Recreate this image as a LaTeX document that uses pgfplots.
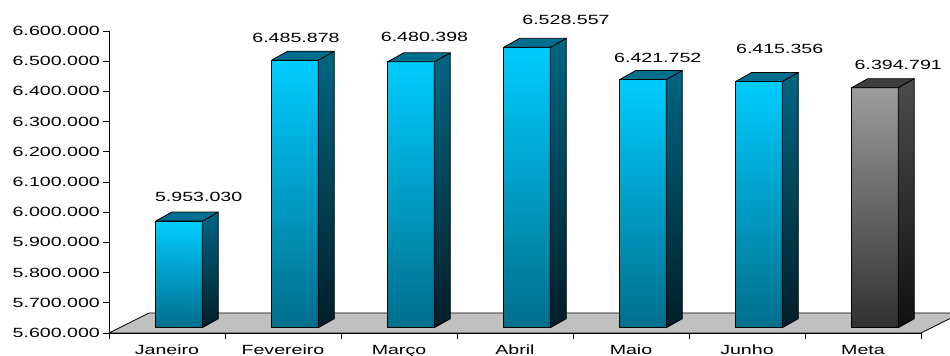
\documentclass[border=0pt]{standalone}
\usepackage{pgfplots}
\pgfplotsset{compat=1.18}
\usepackage{pgfplotstable}
\usepackage{fontspec}
\setmainfont{Liberation Sans}[FakeStretch=1.47]
\newcommand\lblfont{\fontsize{10}{12}\selectfont}

\definecolor{cyftop}{HTML}{00CCFF}
\definecolor{cyfbot}{HTML}{006E8C}
\definecolor{cystop}{HTML}{006682}
\definecolor{cysbot}{HTML}{001E28}
\definecolor{cytop}{HTML}{006E8E}
\definecolor{grftop}{HTML}{9C9C9C}
\definecolor{grfbot}{HTML}{303030}
\definecolor{grstop}{HTML}{4C4C4C}
\definecolor{grsbot}{HTML}{101010}
\definecolor{grtop}{HTML}{3E3E3E}
\definecolor{floorgray}{HTML}{C0C0C0}

% x: category index, v: value, dx/dy: label offset (px) from the value point, c: 0 blue, 1 grey
\pgfplotstableread{
x v lbl dx dy c
0 5953030 5.953.030 31.7 29.7 0
1 6485878 6.485.878 13.0 27.2 0
2 6480398 6.480.398 25.5 30.1 0
3 6528557 6.528.557 51.0 32.3 0
4 6421752 6.421.752 26.8 27.0 0
5 6415356 6.415.356 32.7 38.0 0
6 6394791 6.394.791 35.3 28.0 1
}\data

\pgfplotstableread{
x y
-0.5 5600000
6.5 5600000
6.845 5666225
-0.155 5666225
-0.5 5600000
}\floor

\begin{document}
\begin{tikzpicture}
\path[use as bounding box] (-81.75pt,-17.25pt) rectangle (630.75pt,249.75pt);
\begin{axis}[
  at={(0,0)}, anchor=south west,
  scale only axis, width=609pt, height=226.5pt,
  xmin=-0.5, xmax=6.5, ymin=5600000, ymax=6600000,
  enlargelimits=false, clip=false,
  axis x line*=bottom, axis y line*=left,
  axis line style={line width=0.6pt},
  tick align=outside, major tick length=4.5pt, minor tick length=4.5pt,
  tick style={line width=0.6pt, black},
  xtick={0,1,2,3,4,5,6},
  xticklabels={Janeiro,Fevereiro,Março,Abril,Maio,Junho,Meta},
  minor xtick={-0.5,0.5,1.5,2.5,3.5,4.5,5.5,6.5},
  major x tick style={draw=none},
  xticklabel style={yshift=-1pt},
  ytick={5600000,5700000,5800000,5900000,6000000,6100000,6200000,6300000,6400000,6500000,6600000},
  scaled y ticks=false,
  yticklabel style={/pgf/number format/.cd, fixed, 1000 sep={.}, /tikz/.cd, xshift=1.2pt},
  /pgf/number format/assume math mode=true,
  tick label style={font=\lblfont},
]
\addplot[fill=floorgray, draw=black, line width=0.6pt] table[x=x,y=y] {\floor};
\addplot[scatter, only marks, mark=text, text mark={},
  point meta=explicit symbolic,
  visualization depends on={rawy \as \rawv},
  visualization depends on={\thisrow{dx} \as \ldx},
  visualization depends on={\thisrow{dy} \as \ldy},
  visualization depends on={\thisrow{c} \as \cc},
  scatter/@pre marker code/.code={%
    \edef\hh{\fpeval{(\rawv-5600000)*0.000302}}%
    \ifdim\cc pt>0.5pt
      \colorlet{ftop}{grftop}\colorlet{fbot}{grfbot}\colorlet{stop}{grstop}\colorlet{sbot}{grsbot}\colorlet{ttop}{grtop}%
    \else
      \colorlet{ftop}{cyftop}\colorlet{fbot}{cyfbot}\colorlet{stop}{cystop}\colorlet{sbot}{cysbot}\colorlet{ttop}{cytop}%
    \fi
    \begin{scope}[x=0.75pt,y=0.75pt,line width=0.6pt,line join=round,draw=black]
      \shadedraw[top color=ftop, bottom color=fbot] (-11.3,{5.3-\hh}) rectangle (35.3,5.3);
      \shadedraw[top color=stop, bottom color=sbot] (35.3,5.3) -- (51.3,14.3) -- (51.3,{14.3-\hh}) -- (35.3,{5.3-\hh}) -- cycle;
      \filldraw[fill=ttop] (-11.3,5.3) -- (35.3,5.3) -- (51.3,14.3) -- (4.7,14.3) -- cycle;
      \node[font=\lblfont, inner sep=0pt, text=black] at (\ldx,\ldy) {\pgfplotspointmeta};
    \end{scope}
  },
  scatter/@post marker code/.code={},
] table[x=x,y=v,meta=lbl] {\data};
\end{axis}
\end{tikzpicture}
\end{document}
